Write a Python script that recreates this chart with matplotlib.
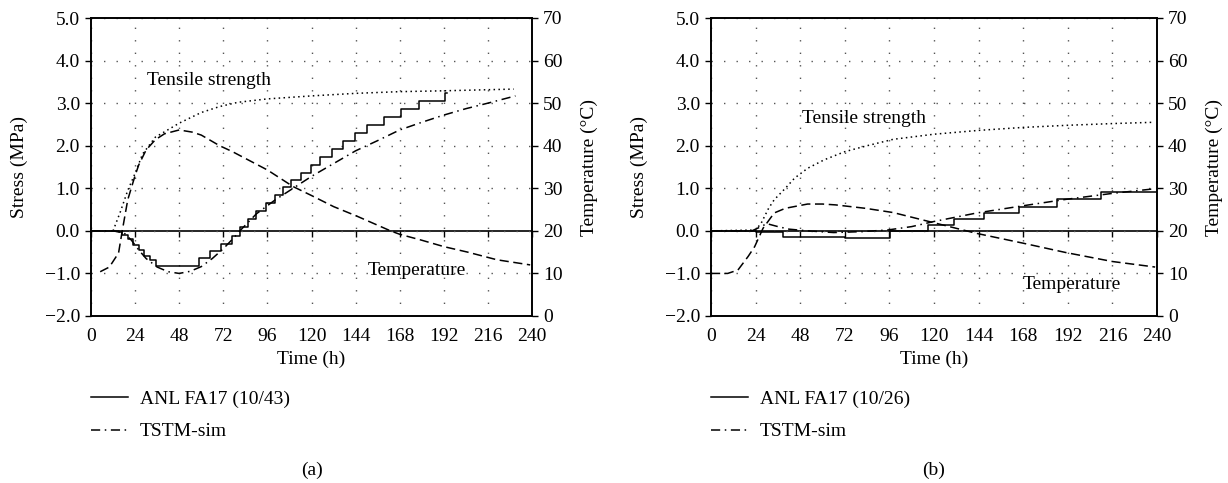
import matplotlib
matplotlib.use("Agg")
import matplotlib.pyplot as plt
import numpy as np

plt.rcParams['font.family'] = ['Liberation Serif', 'DejaVu Serif']
plt.rcParams['font.size'] = 14
plt.rcParams['axes.unicode_minus'] = True

# ---------------- data: panel (a) ----------------
a_temp_t = [5, 10, 15, 17, 20, 24, 26, 30, 35, 40, 48, 55, 60, 70, 77, 96, 110, 120, 132, 145, 163, 168, 180, 192, 205, 221, 239]
a_temp_v = [10.4, 11.5, 14.8, 20, 27.3, 33, 35.5, 39, 41.4, 42.8, 43.7, 43.2, 42.5, 40, 38.6, 34.3, 30.4, 28.3, 25.7, 23.4, 20, 19.2, 17.8, 16.3, 15, 13.2, 12]
a_str_t = [12, 16, 20, 24, 28, 35, 48, 60, 70, 80, 96, 120, 144, 168, 192, 230]
a_str_v = [0.0, 0.45, 0.95, 1.35, 1.8, 2.2, 2.53, 2.78, 2.92, 3.02, 3.1, 3.17, 3.23, 3.27, 3.29, 3.33]
a_sim_t = [0, 12, 18, 22, 26, 30, 36, 42, 48, 54, 60, 66, 72, 78, 81, 90, 100, 110, 120, 132, 144, 156, 168, 180, 192, 204, 216, 231]
a_sim_v = [0, 0, -0.05, -0.22, -0.45, -0.65, -0.85, -0.96, -1.0, -0.95, -0.84, -0.65, -0.42, -0.15, 0, 0.4, 0.72, 1.0, 1.28, 1.58, 1.88, 2.12, 2.37, 2.55, 2.72, 2.87, 3.0, 3.17]
a_meas_t = [0, 8, 15, 17, 20, 23, 26, 29, 32, 35.5, 59, 65, 71, 76.5, 81, 85.5, 90, 95, 100, 104.5, 109, 114.5, 119.5, 124.5, 131, 137, 143.7, 150.4, 159.5, 168.7, 178.5, 192.6, 194]
a_meas_v = [0.0, -0.01, -0.03, -0.1, -0.2, -0.33, -0.46, -0.58, -0.69, -0.82, -0.63, -0.47, -0.30, -0.12, 0.08, 0.27, 0.47, 0.65, 0.84, 1.02, 1.20, 1.37, 1.55, 1.73, 1.92, 2.12, 2.31, 2.49, 2.68, 2.86, 3.05, 3.23, 3.23]

# ---------------- data: panel (b) ----------------
b_temp_t = [0, 9, 14.5, 20, 23.5, 28, 34, 40, 52, 60, 67, 83, 98, 120, 143, 168, 191, 216, 239]
b_temp_v = [10, 10, 10.8, 14, 16.3, 20.6, 24.2, 25.3, 26.3, 26.3, 26.1, 25.3, 24.3, 21.9, 19.4, 17.1, 14.9, 12.8, 11.5]
b_str_t = [0, 24, 27, 31, 34, 40, 45, 52, 61, 72, 84, 98, 120, 144, 168, 192, 216, 238]
b_str_v = [0, 0.02, 0.18, 0.53, 0.73, 1.0, 1.24, 1.47, 1.67, 1.86, 2.0, 2.15, 2.27, 2.36, 2.43, 2.48, 2.52, 2.55]
b_sim_t = [0, 22, 26, 30, 36, 42, 52, 66, 80, 95, 108, 120, 143, 168, 191, 216, 239]
b_sim_v = [0, 0, 0.08, 0.17, 0.1, 0.04, 0.0, -0.04, -0.02, 0.02, 0.1, 0.22, 0.42, 0.59, 0.74, 0.88, 0.99]
b_meas_t = [0, 24, 39, 72, 96.5, 117, 131, 147, 166, 186, 210, 240]
b_meas_v = [0.0, -0.02, -0.15, -0.17, -0.01, 0.14, 0.29, 0.43, 0.57, 0.74, 0.91, 0.93]

x_ticks = list(range(0, 241, 24))
stress_ticks = [-2.0, -1.0, 0.0, 1.0, 2.0, 3.0, 4.0, 5.0]
temp_ticks = list(range(0, 71, 10))

panels = [
    dict(temp=(a_temp_t, a_temp_v), strength=(a_str_t, a_str_v), sim=(a_sim_t, a_sim_v),
         meas=(a_meas_t, a_meas_v), label="ANL FA17 (10/43)", tag="(a)",
         ts_pos=(30.5, 3.54), tp_pos=(150.5, -0.94)),
    dict(temp=(b_temp_t, b_temp_v), strength=(b_str_t, b_str_v), sim=(b_sim_t, b_sim_v),
         meas=(b_meas_t, b_meas_v), label="ANL FA17 (10/26)", tag="(b)",
         ts_pos=(49, 2.65), tp_pos=(167.5, -1.27)),
]

def fmt_stress(v):
    s = f"{abs(v):.1f}"
    return ("\u2212" + s) if v < 0 else s

W, H = 1228, 483
fig = plt.figure(figsize=(W / 100, H / 100), dpi=100)

lefts = [91, 711]
rights = [532, 1157]
top_px, bot_px = 18, 316

for i, p in enumerate(panels):
    l, r = lefts[i], rights[i]
    ax = fig.add_axes([l / W, 1 - bot_px / H, (r - l) / W, (bot_px - top_px) / H])
    ax2 = ax.twinx()

    ax.set_xlim(0, 240)
    ax.set_ylim(-2, 5)
    ax2.set_ylim(0, 70)
    ax.set_xticks(x_ticks)
    ax.set_yticks(stress_ticks)
    ax.set_yticklabels([fmt_stress(v) for v in stress_ticks])
    ax2.set_yticks(temp_ticks)

    ax.grid(True, color='#555555', linestyle=(0, (1, 8)), linewidth=1.0)

    lw = 1.1
    ax.plot(*p['strength'], color='black', linestyle=(0, (1, 2.2)), linewidth=lw)
    sim_line, = ax.plot(*p['sim'], color='black', linestyle=(0, (6, 3, 1, 3)), linewidth=lw, label='TSTM-sim')
    meas_line, = ax.step(*p['meas'], where='post', color='black', linewidth=lw, label=p['label'])
    ax2.plot(*p['temp'], color='black', linestyle=(0, (6, 3)), linewidth=lw)

    sec = ax.secondary_xaxis(2 / 7)
    sec.set_xticks(x_ticks)
    sec.set_xticklabels([])
    sec.tick_params(direction='out', length=4, width=1.0)
    sec.spines['bottom'].set_linewidth(1.2)

    for s in ax.spines.values():
        s.set_linewidth(1.2)
    for s in ax2.spines.values():
        s.set_linewidth(1.2)

    ax.tick_params(axis='x', bottom=False, pad=5, labelsize=14)
    ax.tick_params(axis='y', direction='out', length=4, width=1.0, pad=4, labelsize=14)
    ax2.tick_params(axis='y', direction='out', length=4, width=1.0, pad=4, labelsize=14)

    ax.set_xlabel("Time (h)", fontsize=14, labelpad=4)
    ax.set_ylabel("Stress (MPa)", fontsize=14, labelpad=12)
    ax2.set_ylabel("Temperature (°C)", fontsize=14, labelpad=13)

    ax.text(p['ts_pos'][0], p['ts_pos'][1], "Tensile strength", fontsize=14, ha='left', va='center')
    ax.text(p['tp_pos'][0], p['tp_pos'][1], "Temperature", fontsize=14, ha='left', va='center')

    ax.legend(handles=[meas_line, sim_line], loc='upper left', bbox_to_anchor=(0.0, -0.25),
              frameon=False, borderpad=0, borderaxespad=0, handlelength=1.9,
              handletextpad=0.6, labelspacing=0.75, fontsize=14)

    fig.text(((l + r) / 2) / W, 1 - 470 / H, p['tag'], ha='center', va='center', fontsize=14)

fig.savefig("out.png", dpi=100)
